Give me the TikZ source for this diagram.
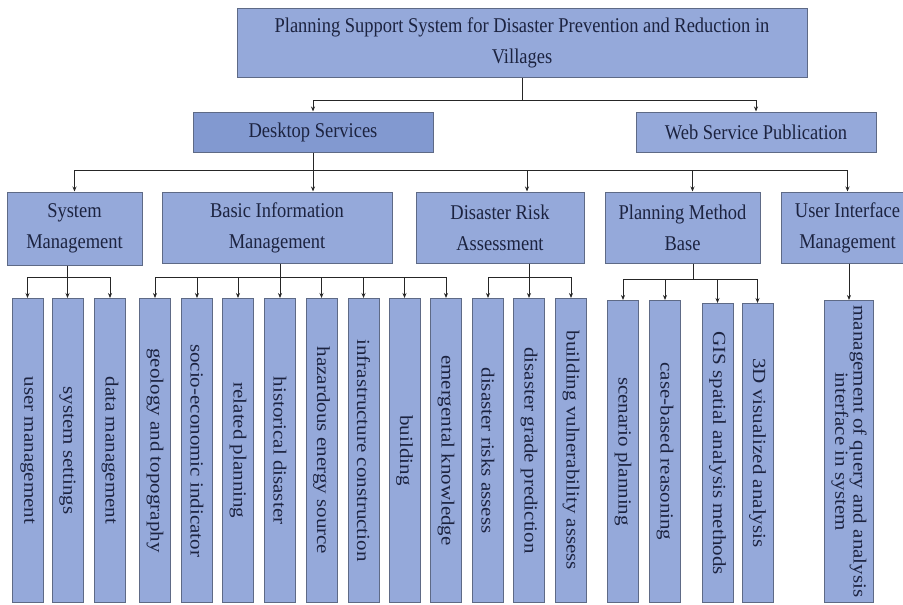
\documentclass[tikz,border=0pt]{standalone}
\usepackage{fontspec}
\setmainfont{Liberation Serif}[FakeStretch=0.88]
\newfontfamily\vertfont{Liberation Serif}[FakeStretch=1.136]
\usetikzlibrary{arrows.meta}
\definecolor{boxfill}{HTML}{95A9DA}
\definecolor{deskfill}{HTML}{8299D0}
\definecolor{boxline}{HTML}{5E6A86}
\definecolor{boxtext}{HTML}{1C2340}
\begin{document}
\begin{tikzpicture}[x=1pt,y=-1pt,
    hbox/.style={draw=boxline, fill=boxfill, line width=1pt, text=boxtext, inner sep=0pt, align=center,
        font=\fontsize{21}{31}\selectfont},
    leaf/.style={draw=boxline, fill=boxfill, line width=1pt, text=boxtext, inner sep=0pt, align=center,
        rotate=-90, anchor=west, minimum width=304pt, minimum height=31pt,
        font=\vertfont\fontsize{18.5}{15.5}\selectfont},
    link/.style={draw=black!85, line width=0.8pt},
    arr/.style={link, -{Stealth[length=5pt,width=4pt]}}]
    \useasboundingbox (0,0) rectangle (903,605);

    \node[hbox, minimum width=570pt, minimum height=69pt] (top) at (522,42.5)
        {Planning Support System for Disaster Prevention and Reduction in\\Villages};

    \node[hbox, fill=deskfill, minimum width=240pt, minimum height=40pt] (desk) at (313,132) {Desktop Services};
    \node[hbox, minimum width=240pt, minimum height=40pt] (web) at (756,132) {Web Service Publication};

    \draw[link] (top.south) -- ++(0,23) coordinate (tb);
    \draw[arr] (tb) -| (desk.north);
    \draw[arr] (tb) -| (web.north);

    \node[hbox, minimum width=135pt, minimum height=73pt] (sysm) at (74.5,228.5) {System\\Management};
    \node[hbox, minimum width=230pt, minimum height=71pt] (basic) at (277,227.5) {Basic Information\\Management};
    \node[hbox, minimum width=168pt, minimum height=71pt] (risk) at (500,227.5) {Disaster Risk\\Assessment};
    \node[hbox, minimum width=155pt, minimum height=71pt] (plan) at (682.5,227.5) {Planning Method\\Base};
    \node[hbox, minimum width=133pt, minimum height=71pt] (ui) at (847.5,227.5) {User Interface\\Management};

    \draw[link] (desk.south) -- ++(0,18) coordinate (db);
    \draw[arr] (db) -| (sysm.north);
    \draw[arr] (db) -- (db |- basic.north);
    \draw[arr] (db) -| ([xshift=27pt]risk.north);
    \draw[arr] (db) -| ([xshift=10pt]plan.north);
    \draw[arr] (db) -| (ui.north);

    \foreach \i/\x/\t in {1/27.5/user management, 2/67.5/system settings, 3/110/data management}
        \node[leaf] (s\i) at (\x,298) {\t};
    \draw[link] (sysm.south -| s2.west) -- ++(0,12) coordinate (sb);
    \foreach \i in {1,2,3}
        \draw[arr] (sb) -| (s\i.west);

    \foreach \i/\x/\t in {1/155/geology and topography, 2/197/socio-economic indicator,
            3/238/related planning, 4/280/historical disaster, 5/321.5/hazardous energy source,
            6/363.5/infrastructure construction, 7/404.5/building, 8/446/emergental knowledge}
        \node[leaf] (b\i) at (\x,298) {\t};
    \draw[link] (basic.south -| b4.west) -- (b4.west |- 0,277) coordinate (bb);
    \foreach \i in {1,...,8}
        \draw[arr] (bb) -| (b\i.west);

    \foreach \i/\x/\t in {1/488/disaster risks assess, 2/529/disaster grade prediction,
            3/571/building vulnerability assess}
        \node[leaf] (r\i) at (\x,298) {\t};
    \draw[link] (risk.south -| r2.west) -- (r2.west |- 0,277) coordinate (rb);
    \foreach \i in {1,2,3}
        \draw[arr] (rb) -| (r\i.west);

    \node[leaf, minimum width=302pt] (p1) at (623,300) {scenario planning};
    \node[leaf, minimum width=302pt] (p2) at (665,300) {case-based reasoning};
    \node[leaf, minimum width=299pt] (p3) at (717.5,303) {GIS spatial analysis methods};
    \node[leaf, minimum width=299pt] (p4) at (757.5,303) {3D visualized analysis};
    \draw[link] ([xshift=10.5pt]plan.south) -- ++(0,16) coordinate (pb);
    \foreach \i in {1,...,4}
        \draw[arr] (pb) -| (p\i.west);

    \node[leaf, minimum width=302pt, minimum height=49pt] (u1) at (849,300)
        {management of query and analysis\\interface in system};
    \draw[arr] (ui.south -| u1.west) -- (u1.west);
\end{tikzpicture}
\end{document}
